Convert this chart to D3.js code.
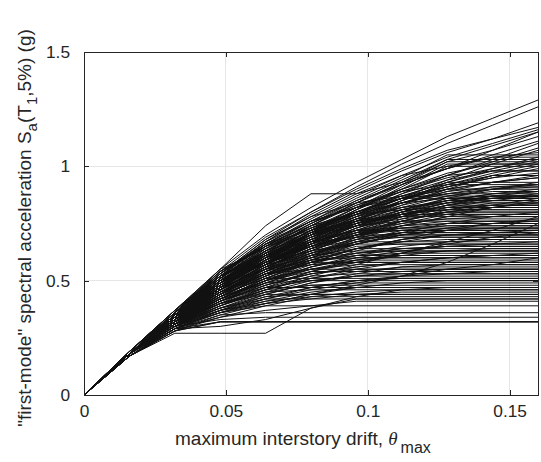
<!DOCTYPE html>
<html>
<head>
<meta charset="utf-8">
<script src="https://cdn.jsdelivr.net/npm/d3@7"></script>
<style>
  html, body { margin: 0; padding: 0; background: #fff; }
  svg { display: block; font-family: "Liberation Sans", Arial, sans-serif; }
</style>
</head>
<body>
<svg id="chart" width="541" height="462"></svg>
<script>
// Drift levels (theta_max) at which each IDA curve was traced
const driftSteps = [0, 0.016, 0.032, 0.048, 0.064, 0.080, 0.096, 0.112, 0.128, 0.144, 0.160];

// Sa(T1,5%) values (g) at each drift step; a curve that ends early flatlines (collapse) at its last value
const curvesHigh = [
  [0,.19,.37,.55,.70,.82,.93,1.03,1.13,1.21,1.29],
  [0,.19,.36,.53,.68,.80,.91,1.01,1.10,1.18,1.26],
  [0,.19,.37,.55,.74,.88,.88,.93,.99,1.07,1.15],
  [0,.18,.36,.52,.67,.79,.89,.98,1.06,1.12,1.19],
  [0,.19,.36,.54,.69,.80,.90,.99,1.07,1.12,1.17],
  [0,.18,.35,.51,.66,.77,.87,.96,1.04,1.10,1.16],
  [0,.18,.35,.50,.64,.75,.85,.94,1.03,1.09,1.15],
  [0,.18,.34,.49,.63,.74,.84,.93,1.02,1.07,1.13],
  [0,.18,.35,.52,.66,.76,.85,.92,.99,1.05,1.11],
  [0,.18,.34,.50,.62,.72,.81,.89,.96,1.02,1.08]
];

const curvesUpper = [
  [0,.18,.35,.51,.65,.76,.86,.95,1.05],
  [0,.18,.34,.50,.63,.74,.84,.93,1.03],
  [0,.18,.35,.50,.62,.72,.82,.92,1.02],
  [0,.18,.34,.48,.60,.71,.81,.91,1.01],
  [0,.18,.33,.47,.59,.70,.81,.90,1.00,1.04,1.06],
  [0,.18,.34,.49,.61,.72,.82,.90,.97,1.01],
  [0,.18,.35,.52,.67,.78,.88,.96,1.00],
  [0,.18,.33,.46,.57,.67,.76,.85,.93,.99,1.04],
  [0,.18,.36,.52,.63,.72,.80,.87,.93,.98,1.02],
  [0,.18,.34,.49,.61,.71,.79,.86,.92,.97,1.01],
  [0,.18,.35,.51,.63,.73,.82,.89,.95,.99,1.03],
  [0,.18,.33,.47,.60,.71,.80,.88,.94,.98],
  [0,.19,.37,.53,.65,.75,.84,.92,.99,1.04],
  [0,.18,.34,.48,.59,.69,.78,.86,.94,1.01,1.07],
  [0,.18,.35,.50,.61,.70,.79,.88,.96,1.03,1.10],
  [0,.18,.34,.47,.57,.66,.75,.83,.90,.96]
];

const curvesMid = [
  [0,.18,.34,.50,.63,.74,.83,.90,.96,.98],
  [0,.18,.33,.47,.58,.68,.77,.85,.92,.96],
  [0,.18,.34,.49,.61,.71,.80,.87,.93],
  [0,.18,.33,.46,.57,.67,.76,.84,.90,.93,.95],
  [0,.18,.35,.51,.65,.75,.83,.89,.92],
  [0,.18,.33,.47,.59,.69,.77,.84,.89,.91],
  [0,.18,.34,.48,.60,.70,.79,.86,.90],
  [0,.18,.32,.45,.56,.65,.73,.80,.85,.88,.90],
  [0,.18,.34,.49,.62,.72,.80,.86,.88],
  [0,.18,.33,.46,.57,.66,.74,.81,.86,.87],
  [0,.18,.35,.52,.66,.76,.82,.86],
  [0,.18,.33,.47,.58,.67,.75,.81,.85,.86],
  [0,.18,.32,.44,.54,.63,.71,.78,.83,.85],
  [0,.18,.34,.49,.61,.70,.77,.82,.84],
  [0,.18,.33,.46,.56,.65,.73,.79,.83],
  [0,.18,.32,.45,.55,.63,.70,.76,.80,.82],
  [0,.18,.34,.48,.59,.68,.75,.80,.81],
  [0,.18,.33,.46,.57,.66,.73,.78,.80],
  [0,.18,.31,.43,.53,.61,.68,.74,.78,.79],
  [0,.18,.34,.49,.62,.71,.77,.78],
  [0,.18,.33,.47,.58,.66,.72,.76,.77],
  [0,.18,.32,.44,.54,.62,.69,.74,.76],
  [0,.18,.33,.46,.57,.65,.71,.74,.75],
  [0,.18,.32,.43,.52,.60,.67,.72,.74],
  [0,.18,.34,.48,.59,.67,.72,.73],
  [0,.18,.31,.42,.51,.59,.66,.70,.72],
  [0,.18,.33,.45,.56,.64,.70,.72],
  [0,.18,.32,.44,.54,.62,.68,.71],
  [0,.18,.31,.41,.50,.58,.64,.68,.70],
  [0,.18,.33,.47,.59,.66,.70],
  [0,.18,.32,.43,.53,.61,.67,.69],
  [0,.18,.31,.42,.51,.58,.64,.67,.68],
  [0,.18,.33,.46,.56,.63,.67],
  [0,.18,.32,.44,.53,.60,.65,.66],
  [0,.18,.30,.40,.49,.56,.61,.64,.65],
  [0,.18,.33,.45,.55,.61,.64],
  [0,.18,.31,.42,.51,.58,.62,.63],
  [0,.18,.32,.43,.52,.58,.61,.62],
  [0,.18,.30,.39,.47,.54,.59,.61],
  [0,.18,.31,.41,.50,.56,.60]
];

const curvesCrossing = [
  [0,.18,.36,.55,.64,.73,.80,.86,.90,.93,.95],
  [0,.19,.37,.52,.60,.70,.78,.85,.91,.96,1.00],
  [0,.18,.35,.47,.62,.72,.78,.82,.85],
  [0,.18,.34,.52,.61,.66,.74,.80,.84,.87],
  [0,.18,.33,.50,.60,.69,.74,.77,.79],
  [0,.18,.36,.49,.58,.68,.77,.83,.87,.90,.92],
  [0,.18,.34,.46,.60,.71,.76,.79],
  [0,.18,.35,.51,.58,.63,.70,.77,.82,.85,.87],
  [0,.18,.33,.44,.55,.66,.74,.79,.82,.83],
  [0,.18,.32,.47,.59,.65,.69,.71],
  [0,.18,.36,.50,.57,.62,.66,.70,.72,.73],
  [0,.18,.34,.45,.52,.61,.69,.76,.81,.84],
  [0,.18,.31,.44,.56,.64,.68,.70],
  [0,.18,.35,.48,.56,.60,.62,.64,.65],
  [0,.18,.33,.42,.50,.57,.63,.68,.72,.75,.77],
  [0,.18,.32,.41,.49,.55,.59,.62,.63],
  [0,.18,.34,.47,.55,.59,.60],
  [0,.18,.30,.41,.48,.53,.56,.58,.60,.61],
  [0,.18,.33,.43,.49,.53,.55],
  [0,.18,.31,.39,.46,.52,.57,.62,.66,.69,.71],
  [0,.18,.32,.44,.51,.55,.58,.62,.67,.72,.78],
  [0,.18,.33,.45,.54,.61,.66,.70,.73,.75,.76],
  [0,.18,.35,.50,.61,.70,.76,.81,.85,.88,.89],
  [0,.18,.33,.46,.56,.64,.72,.79,.84,.87],
  [0,.18,.36,.52,.62,.69,.75,.80,.84,.86,.87],
  [0,.18,.35,.49,.58,.65,.70,.73,.75,.76],
  [0,.18,.34,.47,.55,.62,.67,.71,.73],
  [0,.18,.32,.43,.52,.59,.64,.68,.70,.71,.72],
  [0,.18,.33,.45,.53,.58,.62,.65,.67,.68],
  [0,.18,.31,.41,.48,.54,.58,.61,.63,.64],
  [0,.18,.32,.42,.50,.56,.60,.63,.65,.66,.67],
  [0,.18,.30,.39,.46,.51,.55,.58,.60,.61,.62]
];

const curvesRising = [
  [0,.17,.29,.37,.42,.46,.49,.52,.55,.57,.60],
  [0,.17,.28,.35,.40,.44,.48,.52,.58,.66,.75],
  [0,.18,.35,.53,.68,.78,.84,.87],
  [0,.19,.36,.54,.66,.72,.76,.79,.81],
  [0,.18,.35,.51,.63,.70,.74,.76],
  [0,.18,.34,.50,.61,.68,.72],
  [0,.18,.35,.52,.62,.67,.69],
  [0,.18,.33,.48,.58,.63,.66],
  [0,.18,.34,.49,.57,.61,.63],
  [0,.18,.33,.46,.54,.59,.61],
  [0,.18,.32,.45,.53,.57,.59],
  [0,.18,.35,.50,.60,.65,.70,.74,.78,.82,.85],
  [0,.18,.34,.48,.58,.65,.71,.76,.80,.83,.86],
  [0,.18,.33,.46,.56,.64,.70,.75,.79,.82,.84],
  [0,.18,.32,.44,.53,.60,.66,.71,.75,.78,.80],
  [0,.18,.34,.49,.60,.68,.74,.79,.83,.87,.89],
  [0,.18,.33,.47,.58,.67,.74,.80,.86,.90,.93],
  [0,.18,.35,.52,.64,.73,.80,.86,.91,.95,.97],
  [0,.18,.34,.50,.62,.72,.79,.84,.88,.91,.92],
  [0,.18,.36,.53,.67,.76,.82,.87,.91,.95,.99],
  [0,.19,.37,.54,.65,.73,.79,.84,.89,.93,.96],
  [0,.18,.34,.49,.60,.69,.76,.82,.87,.89],
  [0,.18,.32,.45,.55,.64,.72,.78,.83,.86,.88],
  [0,.18,.33,.48,.60,.70,.78,.84,.88,.90,.91],
  [0,.18,.36,.53,.66,.74,.80,.84,.86],
  [0,.18,.35,.51,.64,.74,.79,.81,.82],
  [0,.18,.33,.47,.58,.67,.72,.75,.77,.78],
  [0,.18,.32,.46,.57,.65,.70,.73,.74],
  [0,.18,.34,.49,.60,.67,.71,.72],
  [0,.18,.31,.43,.52,.59,.64,.67,.70,.71],
  [0,.18,.36,.54,.65,.71,.75,.78,.80],
  [0,.18,.35,.52,.63,.70,.75,.79,.81,.83]
];

const curvesLow = [
  [0,.17,.27,.27,.27,.38,.42],
  [0,.17,.29,.30,.33,.38,.43,.46],
  [0,.17,.28,.32],
  [0,.17,.28,.32],
  [0,.17,.29,.32],
  [0,.18,.30,.33,.34],
  [0,.17,.29,.35,.36],
  [0,.18,.30,.36,.39],
  [0,.18,.31,.38,.42],
  [0,.17,.30,.37,.43,.44],
  [0,.18,.31,.39,.45,.46],
  [0,.18,.32,.41,.47],
  [0,.18,.31,.40,.46,.48],
  [0,.18,.32,.42,.49,.50],
  [0,.18,.33,.44,.51],
  [0,.18,.31,.40,.47,.52,.53],
  [0,.18,.32,.43,.50,.54],
  [0,.18,.33,.45,.53,.55],
  [0,.18,.30,.38,.44,.49,.53,.56],
  [0,.18,.32,.42,.50,.55,.57],
  [0,.18,.33,.45,.53,.57,.58],
  [0,.18,.31,.41,.48,.53,.56,.58],
  [0,.18,.34,.47,.55,.58],
  [0,.18,.30,.37,.41,.43],
  [0,.18,.32,.40,.44],
  [0,.17,.29,.34,.37,.39,.41],
  [0,.18,.31,.37,.40,.42,.44,.45],
  [0,.18,.32,.42,.47,.50,.52,.53],
  [0,.18,.30,.38,.45,.50,.52],
  [0,.18,.29,.36,.42,.47,.50,.51],
  [0,.18,.31,.40,.45,.48,.49],
  [0,.17,.29,.36,.41,.45,.47],
  [0,.18,.29,.37,.44,.49,.52,.54,.55],
  [0,.17,.28,.34,.39,.43,.45,.46,.47],
  [0,.18,.30,.36,.40,.44,.47,.49,.50],
  [0,.18,.32,.40,.46,.51,.54,.56,.57],
  [0,.18,.31,.38,.43,.47,.50,.52,.53,.54]
];

const xTicks = [0, 0.05, 0.1, 0.15];
const xTickLabels = ["0", "0.05", "0.1", "0.15"];
const yTicks = [0, 0.5, 1, 1.5];
const yTickLabels = ["0", "0.5", "1", "1.5"];

// ---------- drawing ----------
(function () {
  const svg = d3.select("#chart");
  const L = 84, R = 538, T = 52, B = 395;
  const x = d3.scaleLinear().domain([0, 0.16]).range([L, R]);
  const y = d3.scaleLinear().domain([0, 1.5]).range([B, T]);

  const axisColor = "#262626";
  const gridColor = "#e6e6e6";

  const grid = svg.append("g");
  grid.selectAll("line.gx").data(xTicks.slice(1)).enter().append("line")
    .attr("x1", d => x(d)).attr("x2", d => x(d)).attr("y1", T).attr("y2", B)
    .attr("stroke", gridColor).attr("stroke-width", 1).attr("shape-rendering", "crispEdges");
  grid.selectAll("line.gy").data(yTicks.slice(1, -1)).enter().append("line")
    .attr("y1", d => y(d)).attr("y2", d => y(d)).attr("x1", L).attr("x2", R)
    .attr("stroke", gridColor).attr("stroke-width", 1).attr("shape-rendering", "crispEdges");

  svg.append("clipPath").attr("id", "clip").append("rect")
    .attr("x", L).attr("y", T).attr("width", R - L).attr("height", B - T);

  const allCurves = [].concat(curvesHigh, curvesUpper, curvesMid, curvesCrossing, curvesRising, curvesLow);
  const line = d3.line().x(d => x(d[0])).y(d => y(d[1]));
  const lastDrift = driftSteps[driftSteps.length - 1];

  svg.append("g").attr("clip-path", "url(#clip)")
    .selectAll("path").data(allCurves).enter().append("path")
    .attr("d", c => {
      const pts = c.map((v, i) => [driftSteps[i], v]);
      if (pts[pts.length - 1][0] < lastDrift) pts.push([lastDrift, c[c.length - 1]]);
      return line(pts);
    })
    .attr("fill", "none")
    .attr("stroke", "#111")
    .attr("stroke-width", 1)
    .attr("stroke-linejoin", "miter");

  svg.append("rect").attr("x", L).attr("y", T).attr("width", R - L).attr("height", B - T)
    .attr("fill", "none").attr("stroke", axisColor).attr("stroke-width", 1).attr("shape-rendering", "crispEdges");

  const tickLen = 5;
  const xAxisB = d3.axisBottom(x).tickValues(xTicks).tickFormat((d, i) => xTickLabels[i]).tickSizeInner(-tickLen).tickSizeOuter(0);
  const gxb = svg.append("g").attr("transform", `translate(0,${B})`).call(xAxisB);
  const xAxisT = d3.axisTop(x).tickValues(xTicks).tickFormat("").tickSizeInner(-tickLen).tickSizeOuter(0);
  const gxt = svg.append("g").attr("transform", `translate(0,${T})`).call(xAxisT);
  const yAxisL = d3.axisLeft(y).tickValues(yTicks).tickFormat((d, i) => yTickLabels[i]).tickSizeInner(-tickLen).tickSizeOuter(0).tickPadding(14);
  const gyl = svg.append("g").attr("transform", `translate(${L},0)`).call(yAxisL);
  const yAxisR = d3.axisRight(y).tickValues(yTicks).tickFormat("").tickSizeInner(-tickLen).tickSizeOuter(0);
  const gyr = svg.append("g").attr("transform", `translate(${R},0)`).call(yAxisR);

  [gxb, gxt, gyl, gyr].forEach(g => {
    g.select(".domain").remove();
    g.selectAll(".tick line").attr("stroke", axisColor).attr("shape-rendering", "crispEdges");
    g.selectAll(".tick text").attr("fill", axisColor).attr("font-size", "17.3px")
      .attr("font-family", "'Liberation Sans', Arial, sans-serif");
  });
  gxb.selectAll(".tick text").attr("dy", "0.71em").attr("y", 10);

  const xl = svg.append("text").attr("x", 175).attr("y", 445)
    .attr("fill", axisColor).attr("font-size", "19px");
  xl.append("tspan").text("maximum interstory drift, ");
  xl.append("tspan").attr("font-family", "'Liberation Serif', 'Times New Roman', serif")
    .attr("font-style", "italic").text("θ");
  xl.append("tspan").attr("font-size", "16px").attr("dx", 3).attr("dy", 8).text("max");

  const yl = svg.append("text").attr("transform", "translate(31,228) rotate(-90)")
    .attr("text-anchor", "middle").attr("fill", axisColor).attr("font-size", "19px");
  yl.append("tspan").text("\"first-mode\" spectral acceleration S");
  yl.append("tspan").attr("font-size", "15px").attr("dy", 6).text("a");
  yl.append("tspan").attr("dy", -6).text("(T");
  yl.append("tspan").attr("font-size", "15px").attr("dy", 6).text("1");
  yl.append("tspan").attr("dy", -6).text(",5%) (g)");
})();
</script>
</body>
</html>
